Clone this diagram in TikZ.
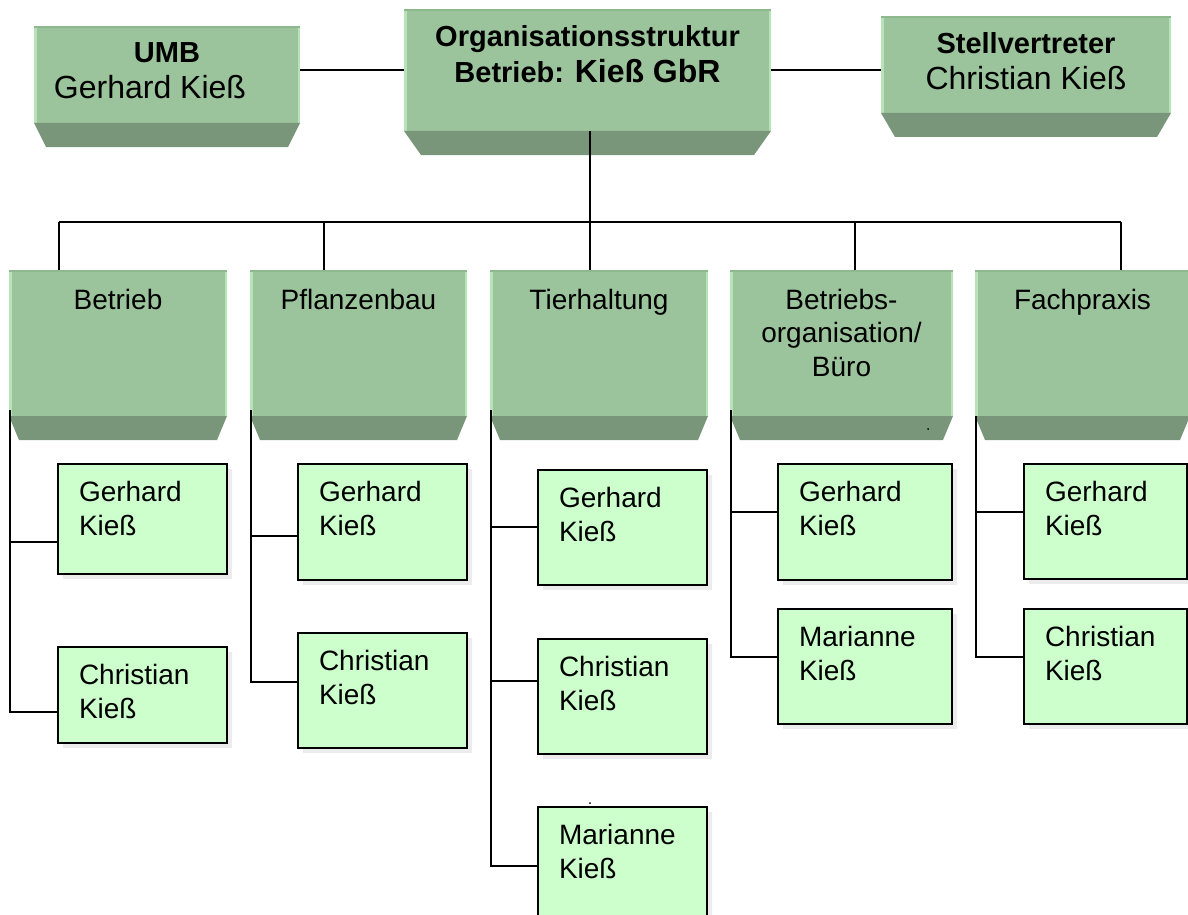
\documentclass[tikz,border=0pt]{standalone}
\usepackage{fontspec}
\setmainfont{Liberation Sans}
\usetikzlibrary{calc,shadows}
\definecolor{facegreen}{RGB}{156,196,156}
\definecolor{bevelgreen}{RGB}{122,150,122}
\definecolor{edgelight}{RGB}{184,226,184}
\definecolor{edgetop}{RGB}{142,184,142}
\definecolor{childgreen}{RGB}{204,255,204}
\definecolor{shadowgrey}{RGB}{236,236,236}
\newcommand\drawbevel[2]{\fill[bevelgreen] (#1.south west) -- (#1.south east) -- ([shift={(-#2pt,-24pt)}]#1.south east) -- ([shift={(#2pt,-24pt)}]#1.south west) -- cycle;}
\begin{document}
\begin{tikzpicture}[x=1pt,y=-1pt,
 face/.style={rectangle, inner sep=0pt, outer sep=0pt, fill=facegreen, anchor=north west,
   path picture={
     \fill[edgelight] (path picture bounding box.north west) rectangle ([xshift=2.5pt]path picture bounding box.south west);
     \fill[edgelight] (path picture bounding box.north east) rectangle ([xshift=-2.5pt]path picture bounding box.south east);
     \fill[edgetop] (path picture bounding box.north west) rectangle ([yshift=-2pt]path picture bounding box.north east);
   }},
 childbox/.style={rectangle, inner sep=0pt, outer sep=0pt, fill=childgreen, draw=black, line width=1.5pt, anchor=north west,
   general shadow={fill=shadowgrey, shadow xshift=5pt, shadow yshift=-5pt}},
 conn/.style={draw=black, line width=1.5pt},
 childtxt/.style={inner sep=0pt, outer sep=0pt, font=\fontsize{28}{34}\selectfont, align=left, anchor=base west},
 cattxt/.style={inner sep=0pt, outer sep=0pt, font=\fontsize{28}{33.5}\selectfont, align=center, anchor=base},
 boldtxt/.style={inner sep=0pt, outer sep=0pt, font=\bfseries\fontsize{29}{34}\selectfont, anchor=base},
 nametxt/.style={inner sep=0pt, outer sep=0pt, font=\fontsize{32}{38}\selectfont, anchor=base}
]
\useasboundingbox (0,0) rectangle (1188,915);

% top boxes
\node[face, minimum width=266pt, minimum height=97pt] (umb) at (34,26) {};
\node[face, minimum width=367pt, minimum height=122pt] (org) at (404,9) {};
\node[face, minimum width=290pt, minimum height=97pt] (stv) at (881,16) {};
\drawbevel{umb}{12}
\drawbevel{org}{17}
\drawbevel{stv}{14}

\node[boldtxt] (umbt) at (167,63) {UMB};
\node[nametxt] (umbn) at (150,99) {Gerhard Kieß};
\node[boldtxt] (orgt1) at (587.5,47) {Organisationsstruktur};
\node[boldtxt] (orgt2) at (587.5,83) {Betrieb: {\fontsize{32}{34}\selectfont Kieß GbR}};
\node[boldtxt] (stvt) at (1026,54) {Stellvertreter};
\node[nametxt] (stvn) at (1026,90) {Christian Kieß};

% category boxes
\node[face, minimum width=218pt, minimum height=146pt] (c1) at (9,270) {};
\node[face, minimum width=217pt, minimum height=146pt] (c2) at (250,270) {};
\node[face, minimum width=218pt, minimum height=146pt] (c3) at (490,270) {};
\node[face, minimum width=223pt, minimum height=146pt] (c4) at (730,270) {};
\node[face, minimum width=215pt, minimum height=146pt] (c5) at (975,270) {};
\foreach \i in {1,...,5}{\drawbevel{c\i}{10}}

\node[cattxt] (ct1) at ([yshift=-39pt]c1.north) {Betrieb};
\node[cattxt] (ct2) at ([yshift=-39pt]c2.north) {Pflanzenbau};
\node[cattxt] (ct3) at ([yshift=-39pt]c3.north) {Tierhaltung};
\node[cattxt] (ct4) at ([yshift=-106pt]c4.north) {Betriebs-\\organisation/\\Büro};
\node[cattxt] (ct5) at ([yshift=-39pt]c5.north) {Fachpraxis};

% child boxes
\foreach \n/\x/\y/\w/\h/\t in {
  11/58/464/169/110/{Gerhard\\Kieß},
  12/58/647/169/96/{Christian\\Kieß},
  21/298/464/169/116/{Gerhard\\Kieß},
  22/298/633/169/115/{Christian\\Kieß},
  31/538/470/169/115/{Gerhard\\Kieß},
  32/538/639/169/115/{Christian\\Kieß},
  33/538/807/169/115/{Marianne\\Kieß},
  41/778/464/174/116/{Gerhard\\Kieß},
  42/778/609/174/115/{Marianne\\Kieß},
  51/1024/464/163/115/{Gerhard\\Kieß},
  52/1024/609/163/115/{Christian\\Kieß}}{
  \node[childbox, minimum width=\w pt, minimum height=\h pt] (k\n) at (\x,\y) {};
  \node[childtxt] (t\n) at ($(k\n.north west)+(21,71)$) {\t};
}

% connectors
\draw[conn] (umb.east |- org.west) -- (org.west);
\draw[conn] (org.east) -- (stv.west |- org.east);
\coordinate (d1) at (59,222);
\coordinate (d2) at (324,222);
\coordinate (d3) at (590,222);
\coordinate (d4) at (855,222);
\coordinate (d5) at (1121,222);
\draw[conn] (d3 |- org.south) -- (d3);
\draw[conn, line width=2pt] (d1) -- (d5);
\foreach \i in {1,...,5}{\draw[conn] (d\i) -- (d\i |- c\i.north);}

\draw[conn] ([shift={(1pt,6pt)}]c1.south west) |- ([yshift=-78pt]k11.north west);
\draw[conn] ([shift={(1pt,6pt)}]c1.south west) |- ([yshift=-65pt]k12.north west);
\draw[conn] ([shift={(1pt,6pt)}]c2.south west) |- ([yshift=-72pt]k21.north west);
\draw[conn] ([shift={(1pt,6pt)}]c2.south west) |- ([yshift=-49pt]k22.north west);
\draw[conn] ([shift={(1pt,6pt)}]c3.south west) |- ([yshift=-57pt]k31.north west);
\draw[conn] ([shift={(1pt,6pt)}]c3.south west) |- ([yshift=-42pt]k32.north west);
\draw[conn] ([shift={(1pt,6pt)}]c3.south west) |- ([yshift=-59pt]k33.north west);
\draw[conn] ([shift={(1pt,6pt)}]c4.south west) |- ([yshift=-48pt]k41.north west);
\draw[conn] ([shift={(1pt,6pt)}]c4.south west) |- ([yshift=-48pt]k42.north west);
\draw[conn] ([shift={(1pt,0pt)}]c5.south west) |- ([yshift=-48pt]k51.north west);
\draw[conn] ([shift={(1pt,0pt)}]c5.south west) |- ([yshift=-48pt]k52.north west);

% stray dots
\fill (590,803) circle[radius=1];
\fill (928,429) circle[radius=1];
\end{tikzpicture}
\end{document}
